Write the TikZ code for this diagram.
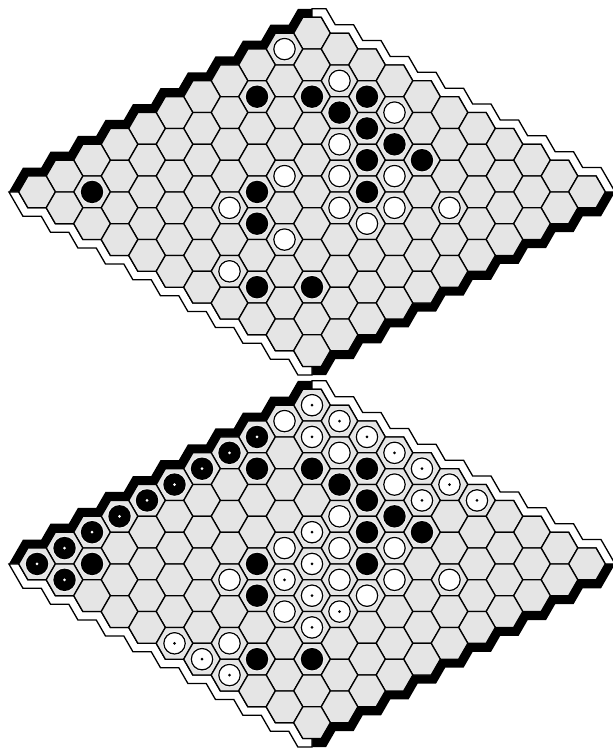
\documentclass[tikz,border=0pt]{standalone}
\definecolor{cellgray}{gray}{0.9}
\definecolor{halogray}{gray}{0.96}
\def\S{18.33}
\def\H{15.874}
\def\T{8.5}
\def\TX{4.907}
\def\TT{9.815}
\tikzset{
  cell/.style={fill=cellgray, draw=black, line width=1.3pt, line join=miter},
  bband/.style={fill=black},
  wband/.style={fill=white, draw=black, line width=1.3pt, line join=miter},
  halo/.style={fill=halogray},
  wst/.style={fill=white, draw=black, line width=1.2pt},
  bst/.style={fill=black},
}
\newcommand\hexboard[3]{%
  % upper-left (black)
  \fill[bband] ({#1},{#2-\H}) \foreach \i in {0,...,10} { -- ({#1-1.5*\S*\i-\S/2},{#2+\H*\i-\H}) -- ({#1-1.5*\S*\i-\S},{#2+\H*\i}) } -- ({#1-16*\S-\TT},{#2+10*\H}) \foreach \i in {10,...,0} { -- ({#1-1.5*\S*\i-\S-\TX},{#2+\H*\i-\T}) -- ({#1-1.5*\S*\i-\S/2-\TX},{#2+\H*\i-\H-\T}) } -- ({#1},{#2-\H-\T}) -- cycle;
  % upper-right (white)
  \filldraw[wband] ({#1},{#2-\H}) \foreach \i in {0,...,10} { -- ({#1+1.5*\S*\i+\S/2},{#2+\H*\i-\H}) -- ({#1+1.5*\S*\i+\S},{#2+\H*\i}) } -- ({#1+16*\S+\TT},{#2+10*\H}) \foreach \i in {10,...,0} { -- ({#1+1.5*\S*\i+\S+\TX},{#2+\H*\i-\T}) -- ({#1+1.5*\S*\i+\S/2+\TX},{#2+\H*\i-\H-\T}) } -- ({#1},{#2-\H-\T}) -- cycle;
  % lower-right (black)
  \fill[bband] ({#1+16*\S},{#2+10*\H}) \foreach \i in {0,...,9} { -- ({#1+1.5*\S*(10-\i)+\S/2},{#2+\H*(\i+11)}) -- ({#1+1.5*\S*(10-\i)-\S/2},{#2+\H*(\i+11)}) } -- ({#1+\S/2},{#2+21*\H}) -- ({#1},{#2+21*\H}) -- ({#1},{#2+21*\H+\T}) -- ({#1+\S/2+\TX},{#2+21*\H+\T}) \foreach \i in {9,...,0} { -- ({#1+1.5*\S*(10-\i)-\S/2+\TX},{#2+\H*(\i+11)+\T}) -- ({#1+1.5*\S*(10-\i)+\S/2+\TX},{#2+\H*(\i+11)+\T}) } -- ({#1+16*\S+\TT},{#2+10*\H}) -- cycle;
  % lower-left (white)
  \filldraw[wband] ({#1-16*\S},{#2+10*\H}) \foreach \i in {0,...,9} { -- ({#1+1.5*\S*(\i-10)-\S/2},{#2+\H*(\i+11)}) -- ({#1+1.5*\S*(\i-10)+\S/2},{#2+\H*(\i+11)}) } -- ({#1-\S/2},{#2+21*\H}) -- ({#1},{#2+21*\H}) -- ({#1},{#2+21*\H+\T}) -- ({#1-\S/2-\TX},{#2+21*\H+\T}) \foreach \i in {9,...,0} { -- ({#1+1.5*\S*(\i-10)+\S/2-\TX},{#2+\H*(\i+11)+\T}) -- ({#1+1.5*\S*(\i-10)-\S/2-\TX},{#2+\H*(\i+11)+\T}) } -- ({#1-16*\S-\TT},{#2+10*\H}) -- cycle;
  % cells
  \foreach \r in {0,...,10} { \foreach \c in {0,...,10} {
    \coordinate (#3-\r-\c) at ({#1+1.5*\S*(\c-\r)},{#2+\H*(\r+\c)});
    \draw[cell] (#3-\r-\c) ++(-\S,0) -- ++(\S/2,-\H) -- ++(\S,0) -- ++(\S/2,\H) -- ++(-\S/2,\H) -- ++(-\S,0) -- cycle;
  } }
}
\newcommand\wstone[1]{\fill[halo] (#1) circle (12.2); \filldraw[wst] (#1) circle (10.7);}
\newcommand\bstone[1]{\fill[halo] (#1) circle (12.2); \fill[bst] (#1) circle (11.2);}
\newcommand\wdot[1]{\wstone{#1}\fill[black] (#1) circle (1.5);}
\newcommand\bdot[1]{\bstone{#1}\fill[white] (#1) circle (1.5);}
\begin{document}
\begin{tikzpicture}[x=1pt,y=-1pt]
\useasboundingbox (0,0) rectangle (613,750);
\hexboard{312}{33.2}{T}
\hexboard{312}{405.2}{B}
\foreach \b in {T,B} {
  \foreach \p in {1-0,1-2,1-4,3-4,5-4,4-5,3-6,7-4,5-6,4-7,3-8,5-7,7-6,9-6} {\wstone{\b-\p}}
  \foreach \p in {3-1,2-2,2-3,1-3,2-4,2-5,3-5,2-6,9-1,6-4,4-6,7-5,9-7,8-8} {\bstone{\b-\p}}
}
\foreach \p in {0-0,0-1,1-1,0-2,0-3,0-4,0-5,0-6,1-5,4-4,5-5,6-5,6-6,6-7,7-7,10-5,10-6,10-7} {\wdot{B-\p}}
\foreach \p in {2-0,3-0,4-0,5-0,6-0,7-0,8-0,9-0,10-0,10-1} {\bdot{B-\p}}
\end{tikzpicture}
\end{document}
